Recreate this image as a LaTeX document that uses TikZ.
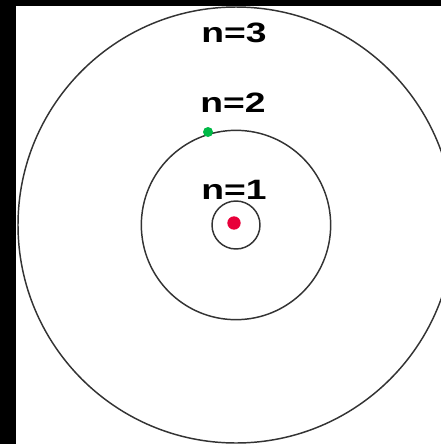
\documentclass[tikz,border=0pt]{standalone}
\usepackage{fontspec}
\setmainfont{Liberation Sans}
\usepackage{tikz}
\usetikzlibrary{positioning}
\definecolor{dotred}{RGB}{232,0,58}
\definecolor{dotgreen}{RGB}{0,185,70}
\tikzset{
  orbit/.style={line width=1.1pt,draw=black!80},
  level/.style={font=\fontsize{21}{25}\selectfont\bfseries,xscale=1.33,transform shape,inner sep=0pt},
  dot/.style={circle,inner sep=0pt,minimum size=#1}
}
\begin{document}
\begin{tikzpicture}[x=0.75pt,y=-0.75pt]
            \useasboundingbox (0,0) rectangle (441,444);
            \clip (0,0) rectangle (441,444);
            \fill[black] (0,0) rectangle (16,444); %左の帯
            \fill[black] (0,0) rectangle (441,6); %上の帯
            \coordinate (nucleus) at (236,225); %中心
            \draw[orbit] (nucleus) circle[radius=163.5pt]; %n=3
            \draw[orbit] (nucleus) circle[radius=71pt]; %n=2
            \draw[orbit] (nucleus) circle[radius=18pt]; %n=1
            \node[dot=10pt,fill=dotred] (proton) at (234,223) {}; %原子核
            \node[dot=7.5pt,fill=dotgreen] (electron) at (208,132) {}; %電子
            \node[level] (n3) at (234,33) {n=3};
            \node[level] (n2) at (233,103) {n=2};
            \node[level] (n1) at (234,190) {n=1};
        \end{tikzpicture}
\end{document}
